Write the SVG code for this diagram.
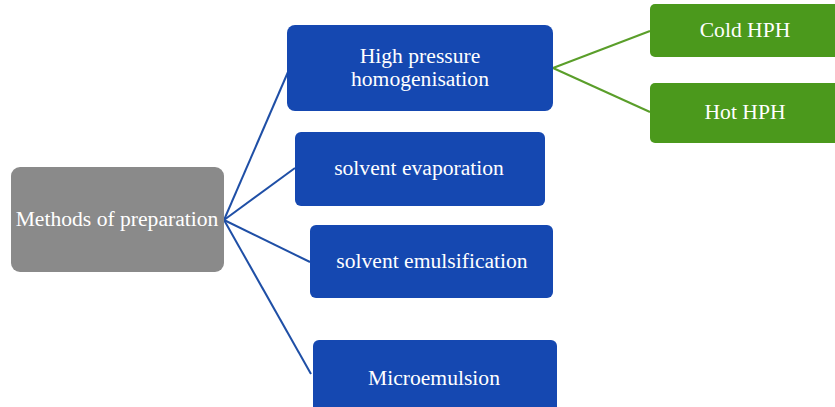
<svg xmlns="http://www.w3.org/2000/svg" width="835" height="407" viewBox="0 0 835 407">
  <style>
    .gray { fill: #8a8a8a; }
    .blue { fill: #1548b1; }
    .green { fill: #4b991c; }
    .label { font-family: "Liberation Serif", "DejaVu Serif", serif; font-size: 21.6px; fill: #ffffff; text-anchor: middle; dominant-baseline: central; }
    .link-blue { stroke: #1f4fa6; stroke-width: 2; fill: none; }
    .link-green { stroke: #5a9e2a; stroke-width: 2; fill: none; }
  </style>
  <rect width="835" height="407" fill="#ffffff"/>

  <g id="connectors">
    <path class="link-blue" d="M224 220 L288 72"/>
    <path class="link-blue" d="M224 220 L295 168"/>
    <path class="link-blue" d="M224 220 L310 262"/>
    <path class="link-blue" d="M224 220 L311 374"/>
    <path class="link-green" d="M553 68 L650 31"/>
    <path class="link-green" d="M553 68 L650 112"/>
  </g>

  <g id="methods">
    <rect class="gray" x="11" y="167" width="213" height="105" rx="9"/>
    <text class="label" x="117" y="219">Methods of preparation</text>
  </g>

  <g id="hph">
    <rect class="blue" x="287" y="25" width="266" height="86" rx="8"/>
    <text class="label" x="420" y="56">High pressure</text>
    <text class="label" x="420" y="79">homogenisation</text>
  </g>

  <g id="cold-hph">
    <rect class="green" x="650" y="4" width="190" height="53" rx="5"/>
    <text class="label" x="745" y="30">Cold HPH</text>
  </g>

  <g id="hot-hph">
    <rect class="green" x="650" y="83" width="190" height="60" rx="5"/>
    <text class="label" x="745" y="112">Hot HPH</text>
  </g>

  <g id="solvent-evaporation">
    <rect class="blue" x="295" y="132" width="250" height="74" rx="6"/>
    <text class="label" x="419" y="168">solvent evaporation</text>
  </g>

  <g id="solvent-emulsification">
    <rect class="blue" x="310" y="225" width="243" height="73" rx="6"/>
    <text class="label" x="432" y="261">solvent emulsification</text>
  </g>

  <g id="microemulsion">
    <rect class="blue" x="313" y="340" width="244" height="75" rx="6"/>
    <text class="label" x="434" y="378">Microemulsion</text>
  </g>
</svg>
